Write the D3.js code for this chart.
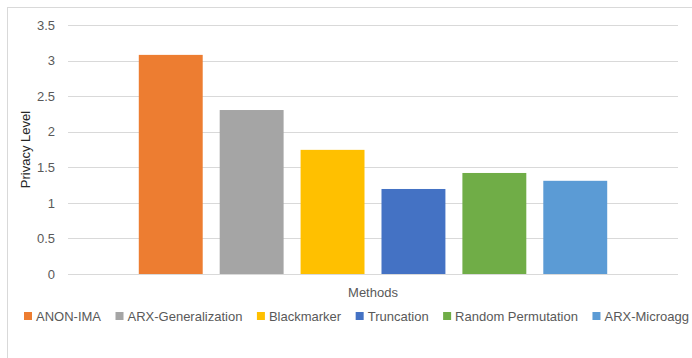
<!DOCTYPE html>
<html>
<head>
<meta charset="utf-8">
<script src="https://cdn.jsdelivr.net/npm/d3@7"></script>
<style>
  body { margin: 0; background: #fff; }
  text { font-family: "Liberation Sans", Arial, sans-serif; }
</style>
</head>
<body>
<div id="chart"></div>
<script>
var svgWidth = 692;
var svgHeight = 358;

// Data
var methods = ["ANON-IMA", "ARX-Generalization", "Blackmarker", "Truncation", "Random Permutation", "ARX-Microagg"];
var privacyLevel = [3.08, 2.305, 1.745, 1.195, 1.42, 1.31];
var colors = ["#ed7d31", "#a5a5a5", "#ffc000", "#4472c4", "#70ad47", "#5b9bd5"];
var yTicks = [0, 0.5, 1, 1.5, 2, 2.5, 3, 3.5];

var margin = { top: 25, right: 14, bottom: 84, left: 68 };
var width = svgWidth - margin.left - margin.right;
var height = svgHeight - margin.top - margin.bottom;

var svg = d3.select("#chart")
  .append("svg")
  .attr("width", svgWidth)
  .attr("height", svgHeight);

// chart border
svg.append("rect")
  .attr("x", 7.5)
  .attr("y", 7.5)
  .attr("width", 720)
  .attr("height", 400)
  .attr("fill", "none")
  .attr("stroke", "#d9d9d9");

var chartGroup = svg.append("g")
  .attr("transform", `translate(${margin.left}, ${margin.top})`);

// scales
var xScale = d3.scaleBand()
  .domain(methods)
  .range([0, width])
  .paddingInner(0.21)
  .paddingOuter(0.875);

var yScale = d3.scaleLinear()
  .domain([0, 3.5])
  .range([height, 0]);

// gridlines
chartGroup.append("g")
  .selectAll("line")
  .data(yTicks)
  .enter()
  .append("line")
  .attr("x1", 0)
  .attr("x2", width)
  .attr("y1", d => Math.round(yScale(d)) + 0.5)
  .attr("y2", d => Math.round(yScale(d)) + 0.5)
  .attr("stroke", "#d9d9d9")
  .attr("stroke-width", 1);

// y axis
var leftAxis = d3.axisLeft(yScale)
  .tickValues(yTicks)
  .tickSize(0)
  .tickPadding(13)
  .tickFormat(d => d);

var yAxis = chartGroup.append("g").call(leftAxis);
yAxis.select(".domain").remove();
yAxis.selectAll("text")
  .attr("fill", "#595959")
  .style("font-size", "13px");

// bars
chartGroup.selectAll(".bar")
  .data(methods)
  .enter()
  .append("rect")
  .attr("class", "bar")
  .attr("x", d => xScale(d))
  .attr("width", xScale.bandwidth())
  .attr("y", (d, i) => yScale(privacyLevel[i]))
  .attr("height", (d, i) => height - yScale(privacyLevel[i]))
  .attr("fill", (d, i) => colors[i]);

// axis titles
chartGroup.append("text")
  .attr("transform", "rotate(-90)")
  .attr("x", 0 - (height / 2))
  .attr("y", -38)
  .attr("text-anchor", "middle")
  .attr("fill", "#262626")
  .style("font-size", "13px")
  .text("Privacy Level");

chartGroup.append("text")
  .attr("x", width / 2)
  .attr("y", height + 23)
  .attr("text-anchor", "middle")
  .attr("fill", "#595959")
  .style("font-size", "13px")
  .text("Methods");

// legend, spread from x=24 to x=689
var legend = svg.append("g")
  .attr("transform", "translate(24, 312)");

var items = methods.map(function(m, i) {
  var item = legend.append("g");
  item.append("rect")
    .attr("width", 8)
    .attr("height", 8)
    .attr("fill", colors[i]);
  var t = item.append("text")
    .attr("x", 12)
    .attr("y", 8.5)
    .attr("fill", "#595959")
    .style("font-size", "13px")
    .text(m);
  return { g: item, w: 12 + t.node().getComputedTextLength() };
});
var totalW = d3.sum(items, d => d.w);
var gap = (665 - totalW) / (items.length - 1);
var xPos = 0;
items.forEach(function(d) {
  d.g.attr("transform", `translate(${xPos}, 0)`);
  xPos += d.w + gap;
});
</script>
</body>
</html>
